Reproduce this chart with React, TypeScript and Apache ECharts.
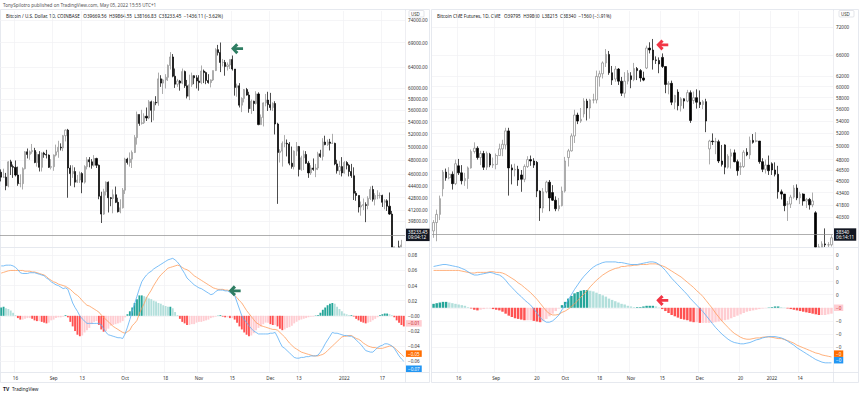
import React, { useEffect, useRef } from 'react';
import * as echarts from 'echarts';

const FONT = "'Noto Sans', 'DejaVu Sans', sans-serif";

// ---------- Texts ----------
const titleText = 'TonySpilotro published on TradingView.com, May 05, 2022 15:55 UTC+1';
const leftLegend = 'Bitcoin / U.S. Dollar, 1D, COINBASE   O39669.56  H39864.55  L38166.83  C38233.45  \u22121436.11 (\u22123.62%)';
const rightLegend = 'Bitcoin CME Futures, 1D, CME   O39795  H39860  L38215  C38340  \u22121560 (\u22123.91%)';

// ---------- Left: Coinbase BTCUSD daily, thousands USD, [open, close, low, high] ----------
const leftAug = [
  [46.3,45.6,45.0,46.7],[45.6,45.6,45.5,46.8],[45.6,44.4,43.8,46.2],[44.4,47.8,44.2,47.9],[47.8,47.1,45.9,48.1],
  [47.1,47.0,45.5,47.4],[47.0,45.9,45.7,48.0],[45.9,44.7,44.4,47.1],[44.7,44.7,44.2,46.0],[44.7,46.8,43.9,47.0],
  [46.8,49.3,46.7,49.4],[49.3,48.9,48.3,49.8],[48.9,49.3,48.1,49.5],[49.3,49.5,49.0,50.5],[49.5,47.7,47.6,49.9],
  [47.7,48.9,47.1,49.3],[48.9,47.0,46.4,49.4],[47.0,49.1,46.4,49.2],[49.1,48.9,48.4,49.3],[48.9,48.8,48.3,49.6],
  [48.8,47.0,46.9,48.9],[47.0,47.1,46.7,48.2],
];
const leftSep = [
  [47.1,48.8,46.5,48.9],[48.8,49.3,48.6,50.4],[49.3,50.0,48.4,51.0],[50.0,49.9,49.5,50.6],[49.9,51.8,49.4,51.9],
  [51.8,52.7,50.9,52.8],[52.7,46.9,42.8,52.9],[46.9,46.1,44.4,47.3],[46.1,46.4,45.5,47.3],[46.4,44.9,44.2,47.0],
  [44.9,45.2,44.8,45.9],[45.2,46.1,44.8,46.4],[46.1,44.9,43.4,46.3],[44.9,47.1,44.7,47.3],[47.1,48.1,46.7,48.5],
  [48.1,47.8,47.0,48.5],[47.8,47.3,46.8,48.2],[47.3,48.3,47.1,48.8],[48.3,47.3,46.9,48.4],[47.3,43.0,42.6,47.4],
  [43.0,40.7,39.6,43.6],[40.7,43.6,40.6,44.0],[43.6,44.9,43.1,45.0],[44.9,42.8,40.9,45.0],[42.8,42.7,41.7,42.9],
  [42.7,43.2,40.8,43.9],[43.2,42.2,42.1,44.3],[42.2,41.0,40.9,42.8],[41.0,41.5,40.8,42.6],[41.5,43.8,41.4,44.1],
];
const leftOct = [
  [43.8,48.2,43.3,48.4],[48.2,47.7,47.4,48.4],[47.7,48.2,47.1,49.2],[48.2,49.2,46.9,49.5],[49.2,51.5,49.1,51.9],
  [51.5,55.3,50.4,55.8],[55.3,53.8,53.4,55.3],[53.8,53.9,53.6,56.1],[53.9,55.0,53.7,55.5],[55.0,54.7,54.2,56.5],
  [54.7,57.5,54.5,57.8],[57.5,56.0,54.0,57.7],[56.0,57.4,54.3,57.6],[57.4,57.3,56.9,58.5],[57.3,61.7,56.8,62.9],
  [61.7,60.9,60.2,62.4],[60.9,61.5,58.9,61.7],[61.5,62.0,59.9,62.6],[62.0,64.3,61.3,64.5],[64.3,66.0,63.5,67.0],
  [66.0,62.2,62.0,66.6],[62.2,60.7,60.0,63.7],[60.7,61.3,60.2,61.7],[61.3,60.9,59.5,61.5],[60.9,63.1,60.7,63.7],
  [63.1,60.4,60.0,63.3],[60.4,58.5,58.1,61.5],[58.5,60.6,57.8,62.5],[60.6,62.3,60.2,62.9],[62.3,61.9,60.7,62.4],
  [61.9,61.3,59.9,62.4],
];
const leftNov = [
  [61.3,61.0,59.5,62.4],[61.0,63.2,60.7,64.3],[63.2,62.9,60.9,63.5],[62.9,61.4,60.7,63.1],[61.4,61.0,60.8,62.6],
  [61.0,61.5,60.1,61.6],[61.5,63.3,61.3,63.3],[63.3,67.5,63.2,67.8],[67.5,66.9,66.3,68.5],[66.9,64.9,63.0,69.0],
  [64.9,64.9,64.1,65.6],[64.9,64.1,62.3,65.4],[64.1,64.4,63.3,64.9],[64.4,65.5,63.6,65.5],[65.5,63.6,63.3,66.3],
  [63.6,60.1,58.6,63.6],[60.1,60.4,58.4,60.8],[60.4,56.9,56.5,60.9],[56.9,58.1,55.7,58.3],[58.1,59.7,57.4,59.8],
  [59.7,58.7,58.6,60.0],[58.7,56.3,55.6,59.3],[56.3,57.6,55.4,57.9],[57.6,57.2,55.9,57.7],[57.2,58.9,57.0,59.4],
  [58.9,53.6,53.5,59.2],[53.6,54.8,53.6,55.3],[54.8,57.3,53.3,57.4],[57.3,57.8,56.7,58.9],[57.8,57.0,55.9,59.3],
];
const leftDec = [
  [57.0,56.5,56.0,59.1],[56.5,57.2,55.9,57.4],[57.2,53.7,52.0,57.6],[53.7,49.2,42.0,53.9],[49.2,49.4,47.7,49.7],
  [49.4,50.6,47.1,50.9],[50.6,50.6,50.0,51.9],[50.6,50.5,48.6,51.2],[50.5,47.6,47.3,50.8],[47.6,47.1,46.8,50.1],
  [47.1,49.4,46.7,49.5],[49.4,50.1,48.7,50.8],[50.1,46.7,45.7,50.2],[46.7,48.4,46.5,48.7],[48.4,48.9,46.6,49.5],
  [48.9,47.6,47.5,49.4],[47.6,46.2,45.5,47.9],[46.2,46.9,45.9,47.3],[46.9,46.7,46.5,48.3],[46.7,46.9,45.6,47.5],
  [46.9,49.0,46.6,49.3],[49.0,48.6,48.4,49.6],[48.6,50.8,48.0,51.4],[50.8,50.4,50.3,51.8],[50.4,50.8,50.2,51.2],
  [50.8,50.6,49.5,51.3],[50.6,50.6,50.5,52.1],[50.6,47.5,47.3,50.7],[47.5,46.5,46.1,48.1],[46.5,47.1,45.9,47.9],
  [47.1,46.2,45.7,48.5],
];
const leftJan = [
  [46.2,47.7,46.1,47.9],[47.7,47.3,46.7,47.9],[47.3,46.4,45.7,47.5],[46.4,45.8,45.5,47.5],[45.8,43.4,42.5,47.0],
  [43.4,43.1,42.4,43.7],[43.1,41.6,40.9,43.1],[41.6,41.8,40.5,42.3],[41.8,41.9,41.2,42.7],[41.9,41.8,39.7,42.2],
  [41.8,42.7,41.3,43.0],[42.7,43.9,42.5,44.3],[43.9,42.6,42.3,44.4],[42.6,43.1,41.8,43.4],[43.1,43.1,42.6,43.8],
  [43.1,43.1,42.7,43.5],[43.1,42.2,41.6,43.2],[42.2,42.4,41.3,42.6],[42.4,41.7,41.1,42.6],[41.7,40.7,40.6,43.5],
  [40.7,36.5,35.5,41.1],[36.5,35.1,34.0,36.8],[35.1,36.3,34.6,36.5],[36.3,36.7,33.0,37.5],[36.7,37.0,36.2,37.6],
];

// MACD (units of 0.001)
const leftMacd = [
  66,66,67,67,67,66,64,61,57,56, 56,56,57,57,57,56,55,54,53,50,
  48,45,43,41,40,38,36,37,35,26, 17,11,6,0,-4,-7,-10,-10,-10,-10,
  -10,-10,-12,-17,-22,-25,-26,-27,-28,-29, -29,-30,-24,-15,-5,6,16,26,36,45,
  50,54,57,59,62,64,66,68,70,72, 74,75,76,74,71,67,61,56,50,47,
  44,41,39,37,36,34,32,30,28,29, 32,34,34,34,33,33,31,29,27,18,
  9,0,-5,-9,-13,-17,-20,-22,-24,-24, -24,-24,-24,-23,-23,-22,-28,-35,-41,-43,
  -46,-49,-52,-55,-56,-56,-55,-55,-54,-54, -53,-53,-53,-52,-48,-43,-37,-32,-27,-22,
  -23,-23,-24,-25,-26,-26,-27,-27,-29,-32, -35,-38,-42,-46,-47,-48,-48,-45,-42,-40,
  -39,-37,-37,-38,-40,-43,-48,-53,-57,-60,
];
const leftSignal = [
  56.5,57.5,58.5,59.5,60,60,60,60,60,60, 59,59,59,58,58,57,56,55,54,52,
  49,47,45,44,42,41,40,39,37,35, 32,29,27,24,20,17,14,13,11,9,
  7,5,1,-2,-5,-8,-11,-14,-16,-18, -20,-22,-23,-21,-19,-13,-10,-6,3,10,
  16,24,29,34,40,45,50,54,57,60, 63,64,65,66,67,66,64,62,61,59,
  56,53,51,49,47,45,43,41,39,37, 36,35,35,35,34,34,33,30,27,24,
  20,17,12,7,3,-1,-5,-9,-11,-13, -14,-15,-16,-17,-18,-18,-19,-22,-25,-28,
  -32,-36,-39,-42,-44,-46,-48,-49,-50,-51, -52,-53,-53,-53,-52,-51,-49,-46,-43,-40,
  -37,-34,-31,-28,-27,-27,-26,-26,-28,-30, -31,-33,-36,-38,-40,-41,-42,-42,-43,-43,
  -43,-42,-41,-40,-40,-42,-45,-48,-51,-54,
];
const leftHist = [
  11,12,10,9,7,4,1,-3,-5,-5, -4,-3,-3,-4,-6,-7,-7,-8,-9,-10,
  -9,-6,-5,-3,-2,-2,-1,1,-2,-8, -14,-20,-25,-27,-26,-22,-19,-16,-11,-8,
  -7,-12,-18,-21,-20,-17,-13,-12,-11,-10, -9,-7,-2,2,6,11,17,22,27,27,
  26,25,23,22,20,19,17,16,14,13, 12,12,10,5,1,-4,-8,-10,-12,-12,
  -11,-11,-9,-8,-8,-7,-6,-5,-3,-2, -1,0.5,1,-1,-2,-2,-3,-3,-5,-9,
  -14,-18,-22,-25,-27,-26,-23,-19,-16,-14, -11,-9,-9,-11,-12,-12,-14,-17,-19,-18,
  -16,-15,-13,-10,-8,-6,-5,-4,-3,-2, -1,-1,0.5,1,4,8,11,14,16,17,
  16,12,9,6,3,2,1,1,-1,-4, -6,-8,-9,-10,-9,-8,-6,-4,-2,1,
  2,3,3,2,1,-2,-6,-9,-12,-14,
];

// ---------- Right: CME Bitcoin futures daily (weekdays), thousands USD ----------
const rightAug = [
  [38.6,39.6,37.8,39.9],[39.6,40.6,37.4,41.2],[40.6,42.6,39.9,43.0],[43.9,46.2,42.9,46.5],[46.2,45.4,45.0,46.7],
  [45.4,45.9,45.2,46.9],[45.9,44.6,43.8,46.3],[44.6,47.4,44.4,48.0],[47.1,46.1,45.8,48.1],[46.1,45.0,44.5,47.2],
  [45.0,45.3,44.3,46.1],[45.3,46.8,43.9,47.0],[46.8,49.2,46.7,49.5],[49.2,49.7,48.9,50.6],[49.7,48.3,48.0,50.0],
  [48.3,48.9,47.2,49.3],[48.9,46.9,46.5,49.3],[46.9,48.9,46.5,49.2],[48.8,47.2,46.9,49.0],[47.2,47.3,46.8,48.3],
];
const rightSep = [
  [47.3,48.6,46.6,48.9],[48.6,49.6,48.6,50.4],[49.6,50.3,48.5,51.0],[50.2,52.4,49.5,52.9],[52.4,46.8,43.0,52.9],
  [46.8,46.5,44.5,47.3],[46.5,46.6,45.6,47.4],[46.6,45.1,44.3,47.1],[45.8,45.2,43.5,46.5],[45.2,47.0,44.8,47.3],
  [47.0,48.0,46.8,48.5],[48.0,47.8,47.1,48.6],[47.8,47.2,46.8,48.2],[47.6,43.6,42.8,47.8],[43.6,41.4,39.8,43.7],
  [41.4,43.5,40.8,44.0],[43.5,44.8,43.3,45.0],[44.8,42.7,41.0,45.1],[43.4,42.4,42.3,44.4],[42.4,41.3,41.0,42.9],
  [41.3,41.7,41.0,42.7],[41.7,43.6,41.6,44.2],
];
const rightOct = [
  [43.6,47.8,43.4,48.4],[48.3,49.3,47.0,49.6],[49.3,51.6,49.2,52.0],[51.6,55.0,50.5,55.9],[55.0,54.0,53.5,55.4],
  [54.0,54.3,53.7,56.2],[55.2,57.4,54.6,57.9],[57.4,56.2,54.1,57.8],[56.2,57.6,54.4,57.8],[57.6,57.6,57.0,58.7],
  [57.6,61.9,57.0,63.0],[61.8,62.4,60.0,63.0],[62.4,64.5,61.5,64.8],[64.5,66.2,63.7,67.3],[66.2,62.6,62.2,66.9],
  [62.6,61.2,60.3,63.9],[61.4,63.3,60.9,63.9],[63.3,61.0,60.3,63.5],[61.0,58.8,58.3,61.8],[58.8,61.0,58.0,62.7],
  [61.0,62.5,60.4,63.1],
];
const rightNov = [
  [62.0,61.3,59.7,62.7],[61.3,63.4,61.0,64.5],[63.4,63.0,61.2,63.7],[63.0,61.6,60.9,63.3],[61.6,61.2,61.0,62.8],
  [63.5,67.5,63.3,68.0],[67.5,67.1,66.4,68.7],[67.1,65.1,63.2,69.4],[65.1,65.0,64.3,65.8],[65.0,64.3,62.5,65.6],
  [65.6,63.8,63.5,66.4],[63.8,60.4,58.8,63.8],[60.4,60.6,58.6,61.0],[60.6,57.2,56.7,61.1],[57.2,58.4,56.0,58.5],
  [59.0,56.6,55.8,59.5],[56.6,57.8,55.6,58.1],[57.8,57.4,56.1,57.9],[57.4,58.9,57.2,59.4],[58.9,54.1,53.7,59.3],
  [57.5,58.0,56.9,59.1],[58.0,57.2,56.1,59.5],
];
const rightDec = [
  [57.2,56.8,56.2,59.3],[56.8,57.3,56.0,57.6],[57.3,54.0,52.2,57.8],[49.6,50.8,47.3,51.0],[50.8,50.7,50.2,52.0],
  [50.7,50.7,48.8,51.3],[50.7,47.8,47.5,51.0],[47.8,47.3,47.0,50.2],[50.2,46.9,45.9,50.3],[46.9,48.5,46.7,48.8],
  [48.5,49.0,46.7,49.6],[49.0,47.7,47.6,49.5],[47.7,46.4,45.7,48.0],[46.9,47.0,45.8,47.6],[47.0,49.1,46.8,49.4],
  [49.1,48.7,48.5,49.7],[48.7,50.9,48.1,51.5],[50.9,50.6,50.4,51.9],[50.8,50.8,50.6,52.2],[50.8,47.7,47.4,50.8],
  [47.7,46.6,46.2,48.2],[46.6,47.2,46.0,48.0],[47.2,46.4,45.8,48.6],
];
const rightJan = [
  [47.4,46.5,45.8,47.6],[46.5,45.9,45.6,47.6],[45.9,43.5,42.6,47.1],[43.5,43.2,42.5,43.8],[43.2,41.7,41.0,43.2],
  [41.9,41.9,39.8,42.3],[41.9,42.8,41.4,43.1],[42.8,44.0,42.6,44.4],[44.0,42.7,42.4,44.5],[42.7,43.2,41.9,43.5],
  [43.2,42.3,41.7,43.3],[42.3,42.5,41.4,42.7],[42.5,41.8,41.2,42.7],[41.8,42.3,41.5,43.4],[40.8,36.6,35.6,41.0],
  [35.9,36.6,33.1,37.1],[36.6,37.1,35.9,37.4],[37.1,37.0,36.4,38.9],[37.0,37.0,35.6,37.3],[37.0,37.8,36.8,38.1],
];

const rightMacd = [
  63,64,65,66,66,65,64,63,62,60, 58,55,52,50,50,51,52,53,54,53,
  51,50,47,42,36,31,26,21,17,12, 8,4,-2,-8,-15,-19,-22,-22,-20,-16,
  -11,-3,4,12,20,28,35,42,48,53, 58,62,65,67,69,70,70,70,70,69,
  69,68,67,66,66,66,67,68,69,70, 70,69,66,62,57,51,45,40,35,30,
  25,20,14,9,4,-1,-6,-12,-18,-24, -30,-35,-40,-44,-48,-51,-53,-54,-55,-55,
  -54,-53,-51,-49,-48,-46,-45,-44,-44,-44, -45,-46,-48,-51,-54,-57,-61,-64,-67,-70,
  -73,-76,-79,-81,-83,-84,-84,-84,
];
const rightSignal = [
  57,57,57,57,57,57,57,57,57,56, 55,54,53,53,54,54,54,54,55,55,
  54,54,53,51,48,45,42,38,35,31, 27,23,18,13,7,1,-5,-9,-11,-11,
  -10,-7,-5,-2,2,6,11,16,21,26, 32,37,42,46,50,53,56,58,60,61,
  63,63,64,64,65,65,66,66,66,67, 67,67,65.5,64,62,59,56,53,50,47,
  43,39,35,31,26,22,17,11,5,-1, -8,-14,-20,-25,-30,-35,-39,-42,-45,-47,
  -48,-48,-47,-46,-46,-45,-44.5,-44.5,-45,-46, -47,-47,-48.5,-50,-52,-54,-57,-59,-61,-63,
  -65,-67,-69,-70,-72,-73,-74,-75,
];
const rightHist = [
  6,7,8,9,9,8,7,6,5,4, 3,1,-1,-3,-4,-3,-2,-1,-1,-2,
  -3,-4,-6,-9,-12,-14,-16,-17,-18,-19, -19,-19,-20,-21,-22,-20,-17,-13,-9,-5,
  -1,4,9,14,18,22,24,26,27,27, 26,25,23,21,19,17,14,12,10,8,
  6,5,3,2,1,1,1,2,3,3, 3,2,0.5,-2,-5,-8,-11,-13,-15,-17,
  -18,-19,-21,-22,-22,-23,-23,-23,-23,-23, -22,-21,-20,-19,-18,-16,-14,-12,-10,-8,
  -6,-5,-4,-3,-2,-1,-0.5,0.5,1,2, 2,1,0.5,-1,-2,-3,-4,-5,-6,-7,
  -8,-9,-10,-11,-11,-11,-10,-9,
];

// ---------- Axis ticks ----------
const leftPriceTicks = [74000, 69000, 64000, 60000, 58000, 56000, 54000, 52000, 50000, 48000, 46000, 44400, 42800, 41200, 39800];
const rightPriceTicks = [72000, 66000, 62000, 60000, 58000, 56000, 54000, 52000, 50000, 48000, 46500, 45000, 43400, 41800, 40300];
const leftMacdTicks = [0.08, 0.06, 0.04, 0.02, 0, -0.02, -0.04, -0.06];
const rightMacdTicks = [0.08, 0.06, 0.04, 0.02, 0, -0.02, -0.04, -0.06];
const leftDateTicks: [string, string][] = [
  ['2021-08-16', '16'], ['2021-09-01', 'Sep'], ['2021-09-13', '13'], ['2021-10-01', 'Oct'], ['2021-10-18', '18'],
  ['2021-11-01', 'Nov'], ['2021-11-15', '15'], ['2021-12-01', 'Dec'], ['2021-12-13', '13'], ['2022-01-01', '2022'], ['2022-01-17', '17'],
];
const rightDateTicks: [string, string][] = [
  ['2021-08-16', '16'], ['2021-09-01', 'Sep'], ['2021-09-20', '20'], ['2021-10-01', 'Oct'], ['2021-10-18', '18'],
  ['2021-11-01', 'Nov'], ['2021-11-15', '15'], ['2021-12-01', 'Dec'], ['2021-12-20', '20'], ['2022-01-03', '2022'], ['2022-01-14', '14'],
];

// current (latest) values shown in the axis boxes
const leftLast = { price: 38233.45, priceText: '38233.45', timer: '09:04:12', hist: -0.0066, histText: '\u22120.01', signal: -0.0543, signalText: '\u22120.05', macd: -0.0655, macdText: '\u22120.07' };
const rightLast = { price: 38340, priceText: '38340', timer: '06:14:11', hist: -0.0012, histText: '\u22120', signal: -0.0735, signalText: '\u22120', macd: -0.0815, macdText: '\u22120' };

// annotation arrows
const leftArrow = { date: '2021-11-17', price: 67700, macdDate: '2021-11-16', macd: 0.033 };
const rightArrow = { date: '2021-11-15', price: 68150, macdDate: '2021-11-15', macd: 0.0112 };

// visible price range of each pane
const leftRange = [36780, 76030];
const rightRange = [36750, 75590];

function buildDays(y: number, m: number, d: number, count: number, weekdaysOnly: boolean): string[] {
  const out: string[] = [];
  const dt = new Date(Date.UTC(y, m - 1, d));
  while (out.length < count) {
    const wd = dt.getUTCDay();
    if (!weekdaysOnly || (wd !== 0 && wd !== 6)) out.push(dt.toISOString().slice(0, 10));
    dt.setUTCDate(dt.getUTCDate() + 1);
  }
  return out;
}

const leftDays = buildDays(2021, 8, 10, 170, false);
const rightDays = buildDays(2021, 8, 4, 128, true);

const leftCandles = [...leftAug, ...leftSep, ...leftOct, ...leftNov, ...leftDec, ...leftJan];
const rightCandles = [...rightAug, ...rightSep, ...rightOct, ...rightNov, ...rightDec, ...rightJan];

// log-price candles, clipped to the pane (ECharts does not clip partially visible boxes)
function toLogClipped(rows: number[][], range: number[]) {
  const lo = Math.log(range[0]);
  const hi = Math.log(range[1]);
  return rows.map((r) => {
    const v = r.map((x) => Math.log(x * 1000));
    if (v[3] < lo || v[2] > hi) return ['-', '-', '-', '-'];
    return v.map((x) => Math.min(hi, Math.max(lo, x)));
  });
}

function histItems(h: number[]) {
  return h.map((v, i) => {
    const prev = i > 0 ? h[i - 1] : v;
    const color = v >= 0 ? (v >= prev ? '#26a69a' : '#b2dfdb') : (v < prev ? '#ff5252' : '#ffcdd2');
    return { value: v / 1000, itemStyle: { color } };
  });
}

const ARROW = 'path://M0,5.5 L5.2,0.3 L7.4,2.5 L5.2,4.3 L12,4.3 L12,6.9 L5.2,6.9 L7.4,8.7 L5.2,10.9 Z';
const GRIDC = '#f0f1f4';
const LBL = { fontSize: 4.6, color: '#333', fontFamily: FONT };

function xAxisFor(gridIndex: number, days: string[], ticks: [string, string][], showLabels: boolean) {
  const map = new Map(ticks);
  const isTick = (_i: number, v: string) => map.has(v);
  return {
    type: 'category', gridIndex, data: days, boundaryGap: true,
    axisLine: { show: false }, axisTick: { show: false },
    axisLabel: { show: showLabels, interval: isTick, formatter: (v: string) => map.get(v) || '', margin: 3.5, ...LBL },
    splitLine: { show: true, interval: isTick, lineStyle: { color: GRIDC, width: 0.7 } },
  };
}

function priceYAxis(gridIndex: number, range: number[], ticks: number[], dec: boolean, margin: number) {
  const cv = ticks.map((t) => Math.log(t));
  return {
    type: 'value', gridIndex, position: 'right', min: Math.log(range[0]), max: Math.log(range[1]),
    axisLine: { show: false }, axisTick: { show: false, customValues: cv },
    axisLabel: { customValues: cv, margin, formatter: (v: number) => `${Math.round(Math.exp(v))}${dec ? '.00' : ''}`, ...LBL },
    splitLine: { show: true, lineStyle: { color: GRIDC, width: 0.7 } },
  };
}

function macdYAxis(gridIndex: number, lo: number, hi: number, ticks: number[], fmt: (v: number) => string, margin: number) {
  return {
    type: 'value', gridIndex, position: 'right', min: lo, max: hi,
    axisLine: { show: false }, axisTick: { show: false, customValues: ticks },
    axisLabel: { customValues: ticks, margin, formatter: fmt, ...LBL },
    splitLine: { show: true, lineStyle: { color: GRIDC, width: 0.7 } },
  };
}

function boxLine(value: number, text: string, bg: string, color: string) {
  return {
    yAxis: value,
    lineStyle: { color: 'rgba(0,0,0,0)', width: 0 },
    label: { show: true, position: 'end', distance: 1, formatter: text, backgroundColor: bg, color, padding: [1, 2, 0.5, 2], fontSize: 4.6, fontFamily: FONT },
  };
}

function priceLine(value: number, text: string, timer: string) {
  return {
    yAxis: Math.log(value),
    lineStyle: { color: '#8d8d8d', width: 0.7, type: 'solid' },
    label: { show: true, position: 'end', distance: 1, formatter: `${text}\n${timer}`, backgroundColor: '#131722', color: '#fff', padding: [1, 2, 1, 2], lineHeight: 5.2, fontSize: 4.6, fontFamily: FONT },
  };
}

const candleStyle = { color: '#ffffff', color0: '#000000', borderColor: '#8a8a8a', borderColor0: '#000000', borderWidth: 0.7 };

function buildOption() {
  const leftLayout = { l: 0, w: 405 };
  const rightLayout = { l: 432, w: 401 };
  const priceTop = 11, priceH = 236, macdTop = 248, macdH = 124;
  const g = (left: number, top: number, width: number, height: number) => ({ left, top, width, height, containLabel: false, outerBoundsMode: 'none' });

  const lineSeries = (xi: number, yi: number, data: number[], color: string, extra: any = {}) => ({
    type: 'line', xAxisIndex: xi, yAxisIndex: yi, data: data.map((v) => v / 1000), showSymbol: false, symbol: 'none',
    lineStyle: { color, width: 0.8 }, itemStyle: { color }, z: 3, silent: true, ...extra,
  });

  const arrowPoint = (date: string, value: number, color: string) => ({
    symbol: ARROW, symbolSize: [12, 11], silent: true, label: { show: false },
    itemStyle: { color }, data: [{ coord: [date, value] }],
  });

  const frame = (x1: number, y1: number, x2: number, y2: number) => ({
    type: 'line', silent: true, shape: { x1, y1, x2, y2 }, style: { stroke: '#e0e3eb', lineWidth: 0.8 },
  });

  return {
    animation: false,
    backgroundColor: '#ffffff',
    textStyle: { fontFamily: FONT },
    grid: [
      g(leftLayout.l, priceTop, leftLayout.w, priceH),
      g(leftLayout.l, macdTop, leftLayout.w, macdH),
      g(rightLayout.l, priceTop, rightLayout.w, priceH),
      g(rightLayout.l, macdTop, rightLayout.w, macdH),
    ],
    xAxis: [
      xAxisFor(0, leftDays, leftDateTicks, false),
      xAxisFor(1, leftDays, leftDateTicks, true),
      xAxisFor(2, rightDays, rightDateTicks, false),
      xAxisFor(3, rightDays, rightDateTicks, true),
    ],
    yAxis: [
      priceYAxis(0, leftRange, leftPriceTicks, true, 3),
      macdYAxis(1, -0.0743, 0.0897, leftMacdTicks, (v) => (v <= 0 ? '\u2212' : '') + Math.abs(v).toFixed(2), 3),
      priceYAxis(2, rightRange, rightPriceTicks, false, 3),
      macdYAxis(3, -0.098, 0.0912, rightMacdTicks, (v) => (v > 0 ? '0' : '\u22120'), 3),
    ],
    series: [
      {
        type: 'candlestick', xAxisIndex: 0, yAxisIndex: 0, data: toLogClipped(leftCandles, leftRange), barWidth: '66%', clip: true,
        itemStyle: candleStyle, silent: true,
        markLine: { symbol: 'none', silent: true, data: [priceLine(leftLast.price, leftLast.priceText, leftLast.timer)] },
        markPoint: arrowPoint(leftArrow.date, Math.log(leftArrow.price), '#2e7d62'),
      },
      {
        type: 'bar', xAxisIndex: 1, yAxisIndex: 1, data: histItems(leftHist), barWidth: '78%', silent: true, z: 2,
        markLine: { symbol: 'none', silent: true, data: [boxLine(leftLast.hist, leftLast.histText, '#ffcdd2', '#c62828')] },
      },
      lineSeries(1, 1, leftSignal, '#ff9d5c', {
        markLine: { symbol: 'none', silent: true, data: [boxLine(leftLast.signal, leftLast.signalText, '#ff6d00', '#ffffff')] },
      }),
      lineSeries(1, 1, leftMacd, '#5aaef5', {
        markLine: { symbol: 'none', silent: true, data: [boxLine(leftLast.macd, leftLast.macdText, '#2196f3', '#ffffff')] },
        markPoint: arrowPoint(leftArrow.macdDate, leftArrow.macd, '#2e7d62'),
      }),
      {
        type: 'candlestick', xAxisIndex: 2, yAxisIndex: 2, data: toLogClipped(rightCandles, rightRange), barWidth: '66%', clip: true,
        itemStyle: candleStyle, silent: true,
        markLine: { symbol: 'none', silent: true, data: [priceLine(rightLast.price, rightLast.priceText, rightLast.timer)] },
        markPoint: arrowPoint(rightArrow.date, Math.log(rightArrow.price), '#f23645'),
      },
      {
        type: 'bar', xAxisIndex: 3, yAxisIndex: 3, data: histItems(rightHist), barWidth: '78%', silent: true, z: 2,
        markLine: { symbol: 'none', silent: true, data: [boxLine(rightLast.hist, rightLast.histText, '#ffcdd2', '#c62828')] },
      },
      lineSeries(3, 3, rightSignal, '#ff9d5c', {
        markLine: { symbol: 'none', silent: true, data: [boxLine(rightLast.signal, rightLast.signalText, '#ff6d00', '#ffffff')] },
      }),
      lineSeries(3, 3, rightMacd, '#5aaef5', {
        markLine: { symbol: 'none', silent: true, data: [boxLine(rightLast.macd, rightLast.macdText, '#2196f3', '#ffffff')] },
        markPoint: arrowPoint(rightArrow.macdDate, rightArrow.macd, '#f23645'),
      }),
    ],
    graphic: [
      { type: 'text', left: 3, top: 2, silent: true, style: { text: titleText, fontSize: 4.6, fill: '#555', fontFamily: FONT } },
      { type: 'text', left: 6, top: 13, silent: true, style: { text: leftLegend, fontSize: 4.6, fill: '#222', fontFamily: FONT } },
      { type: 'text', left: 437, top: 13, silent: true, style: { text: rightLegend, fontSize: 4.6, fill: '#222', fontFamily: FONT } },
      { type: 'rect', silent: true, shape: { x: 0.5, y: 9.5, width: 429, height: 373 }, style: { fill: 'none', stroke: '#e0e3eb', lineWidth: 0.8 } },
      { type: 'rect', silent: true, shape: { x: 431.5, y: 9.5, width: 427, height: 373 }, style: { fill: 'none', stroke: '#e0e3eb', lineWidth: 0.8 } },
      frame(405.5, 9.5, 405.5, 382.5),
      frame(833.5, 9.5, 833.5, 382.5),
      frame(0.5, 247.5, 429.5, 247.5),
      frame(431.5, 247.5, 858.5, 247.5),
      frame(0.5, 372.5, 429.5, 372.5),
      frame(431.5, 372.5, 858.5, 372.5),
      { type: 'rect', silent: true, shape: { x: 409, y: 10.5, width: 15, height: 6.5, r: 1 }, style: { fill: '#fff', stroke: '#d1d4dc', lineWidth: 0.6 } },
      { type: 'text', left: 411, top: 11.5, silent: true, style: { text: 'USD', fontSize: 4.4, fill: '#333', fontFamily: FONT } },
      { type: 'rect', silent: true, shape: { x: 839, y: 10.5, width: 15, height: 6.5, r: 1 }, style: { fill: '#fff', stroke: '#d1d4dc', lineWidth: 0.6 } },
      { type: 'text', left: 841, top: 11.5, silent: true, style: { text: 'USD', fontSize: 4.4, fill: '#333', fontFamily: FONT } },
      { type: 'text', left: 3, top: 386, silent: true, style: { text: 'TV', fontSize: 5, fontWeight: 'bold', fill: '#131722', fontFamily: FONT } },
      { type: 'text', left: 12, top: 386.5, silent: true, style: { text: 'TradingView', fontSize: 4.6, fill: '#131722', fontFamily: FONT } },
    ],
  };
}

export default function App() {
  const ref = useRef<HTMLDivElement>(null);
  useEffect(() => {
    document.body.style.margin = '0';
    if (!ref.current) return;
    const chart = echarts.init(ref.current, undefined, { renderer: 'svg' });
    chart.setOption(buildOption() as any);
    return () => chart.dispose();
  }, []);
  return <div ref={ref} style={{ width: 860, height: 395 }} />;
}
